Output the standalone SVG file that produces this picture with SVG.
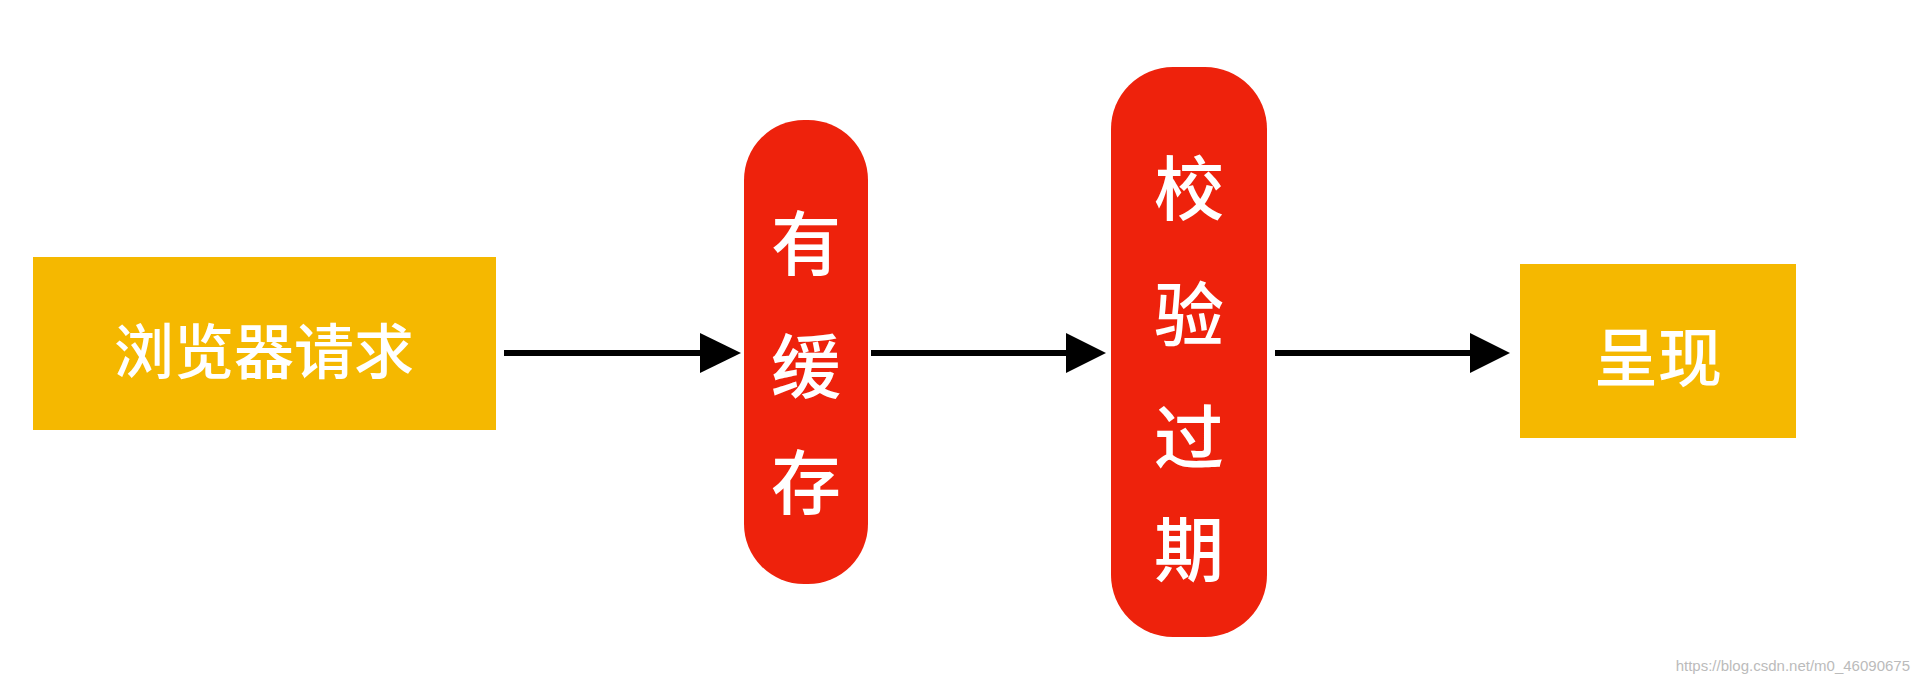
<svg xmlns="http://www.w3.org/2000/svg" width="1920" height="690" viewBox="0 0 1920 690">
<defs>
<style>
.y{fill:#F5B800}.r{fill:#EE220C}
.t{fill:#fff;font-family:"Noto Sans CJK SC",sans-serif;font-weight:500;text-anchor:middle;dominant-baseline:central}
.c{stroke:#000;stroke-width:6;fill:none}
</style>
<marker id="a" markerWidth="8" markerHeight="8" refX="7" refY="4" orient="auto" markerUnits="userSpaceOnUse" viewBox="0 0 8 8"><path d="M0,0L8,4L0,8z"/></marker>
</defs>
<rect width="1920" height="690" fill="#fff"/>
<g id="connectors">
<line class="c" x1="504" y1="353" x2="700" y2="353"/><path d="M700,333L741,353L700,373z"/>
<line class="c" x1="871" y1="353" x2="1066" y2="353"/><path d="M1066,333L1106,353L1066,373z"/>
<line class="c" x1="1275" y1="353" x2="1470" y2="353"/><path d="M1470,333L1510,353L1470,373z"/>
</g>
<g id="n1"><rect class="y" x="33" y="257" width="463" height="173"/><text class="t" x="264" y="347" font-size="60">浏览器请求</text></g>
<g id="n2"><rect class="r" x="744" y="120" width="124" height="464" rx="60"/>
<text class="t" x="806" y="239" font-size="70">有</text><text class="t" x="806" y="362" font-size="70">缓</text><text class="t" x="806" y="478" font-size="70">存</text></g>
<g id="n3"><rect class="r" x="1111" y="67" width="156" height="570" rx="62"/>
<text class="t" x="1189" y="184" font-size="70">校</text><text class="t" x="1189" y="310" font-size="70">验</text><text class="t" x="1189" y="433" font-size="70">过</text><text class="t" x="1189" y="545" font-size="70">期</text></g>
<g id="n4"><rect class="y" x="1520" y="264" width="276" height="174"/><text class="t" x="1658" y="353" font-size="64">呈现</text></g>
<text x="1910" y="671" font-size="15" fill="#bbb" text-anchor="end" font-family="Liberation Sans,sans-serif">https://blog.csdn.net/m0_46090675</text>
</svg>
